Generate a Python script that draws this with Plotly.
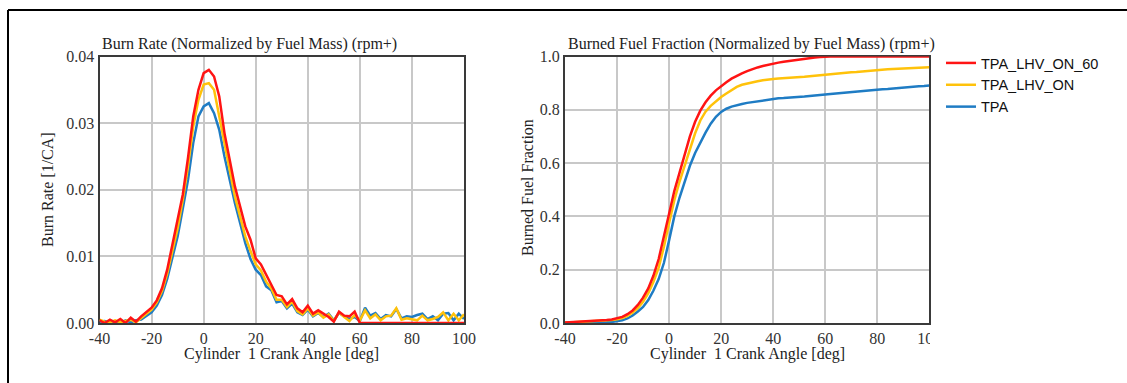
import plotly.graph_objects as go

W, H = 1127, 383

crank_angle = list(range(-40, 101, 2))

series_names = ["TPA_LHV_ON_60", "TPA_LHV_ON", "TPA"]
series_colors = ["#ff1414", "#ffc20a", "#1f7cc4"]

burn_rate_on60 = [
    0.0004, 0.0000, 0.0005, 0.0001, 0.0006, 0.0000, 0.0008, 0.0002, 0.0010, 0.0016,
    0.0023, 0.0034, 0.0052, 0.0080, 0.0118, 0.0152, 0.0193, 0.0248, 0.0310, 0.0350,
    0.0375, 0.0380, 0.0370, 0.0340, 0.0285, 0.0245, 0.0205, 0.0175, 0.0145, 0.0125,
    0.0097, 0.0088, 0.0072, 0.0058, 0.0042, 0.0040, 0.0028, 0.0036, 0.0022, 0.0016,
    0.0026, 0.0014, 0.0019, 0.0014, 0.0009, 0.0002, 0.0017, 0.0011, 0.0010, 0.0017,
    0.0, 0.0, 0.0, 0.0, 0.0, 0.0, 0.0, 0.0, 0.0, 0.0,
    0.0, 0.0, 0.0, 0.0, 0.0, 0.0, 0.0, 0.0, 0.0, 0.0,
    0.0,
]
burn_rate_on = [
    0.0005, 0.0002, 0.0001, 0.0004, 0.0001, 0.0003, 0.0005, 0.0001, 0.0008, 0.0014,
    0.0020, 0.0031, 0.0048, 0.0074, 0.0108, 0.0142, 0.0185, 0.0235, 0.0295, 0.0335,
    0.0358, 0.0360, 0.0350, 0.0310, 0.0270, 0.0230, 0.0190, 0.0160, 0.0130, 0.0108,
    0.0088, 0.0079, 0.0062, 0.0052, 0.0035, 0.0035, 0.0024, 0.0032, 0.0018, 0.0013,
    0.0022, 0.0011, 0.0016, 0.0008, 0.0013, 0.0003, 0.0016, 0.0009, 0.0003, 0.0012,
    0.0004, 0.0019, 0.0007, 0.0013, 0.0004, 0.0010, 0.0011, 0.0022, 0.0005, 0.0007,
    0.0006, 0.0004, 0.0011, 0.0004, 0.0006, 0.0009, 0.0016, 0.0004, 0.0014, 0.0004,
    0.0013,
]
burn_rate_tpa = [
    0.0002, 0.0003, 0.0000, 0.0003, 0.0000, 0.0004, 0.0001, 0.0004, 0.0005, 0.0011,
    0.0016, 0.0026, 0.0042, 0.0066, 0.0096, 0.0130, 0.0172, 0.0215, 0.0270, 0.0310,
    0.0325, 0.0330, 0.0315, 0.0290, 0.0250, 0.0213, 0.0180, 0.0150, 0.0120, 0.0096,
    0.0080, 0.0072, 0.0055, 0.0049, 0.0031, 0.0033, 0.0022, 0.0029, 0.0016, 0.0012,
    0.0020, 0.0010, 0.0015, 0.0009, 0.0014, 0.0004, 0.0015, 0.0010, 0.0006, 0.0009,
    0.0003, 0.0023, 0.0011, 0.0015, 0.0006, 0.0012, 0.0010, 0.0021, 0.0007, 0.0010,
    0.0009, 0.0012, 0.0014, 0.0006, 0.0010, 0.0004, 0.0014, 0.0015, 0.0004, 0.0014,
    0.0006,
]

bff_on60 = [
    0.002, 0.003, 0.003, 0.004, 0.005, 0.006, 0.007, 0.009, 0.011, 0.013,
    0.017, 0.023, 0.033, 0.047, 0.068, 0.095, 0.130, 0.178, 0.240, 0.320,
    0.410, 0.495, 0.565, 0.637, 0.700, 0.755, 0.797, 0.828, 0.853, 0.873,
    0.889, 0.903, 0.917, 0.928, 0.937, 0.945, 0.953, 0.959, 0.964, 0.969,
    0.973, 0.977, 0.980, 0.983, 0.986, 0.988, 0.991, 0.994, 0.996, 0.998,
    1.0, 1.0, 1.0, 1.0, 1.0, 1.0, 1.0, 1.0, 1.0, 1.0,
    1.0, 1.0, 1.0, 1.0, 1.0, 1.0, 1.0, 1.0, 1.0, 1.0,
    1.0,
]
bff_on = [
    0.001, 0.002, 0.002, 0.003, 0.004, 0.005, 0.006, 0.007, 0.009, 0.011,
    0.014, 0.019, 0.027, 0.039, 0.056, 0.080, 0.112, 0.155, 0.208, 0.285,
    0.375, 0.460, 0.530, 0.592, 0.655, 0.712, 0.760, 0.793, 0.815, 0.833,
    0.848, 0.861, 0.874, 0.886, 0.894, 0.899, 0.903, 0.907, 0.911, 0.914,
    0.916, 0.917, 0.918, 0.919, 0.920, 0.922, 0.924, 0.926, 0.928, 0.931,
    0.933, 0.934, 0.936, 0.937, 0.939, 0.941, 0.942, 0.944, 0.946, 0.948,
    0.950, 0.951, 0.952, 0.953, 0.954, 0.955, 0.956, 0.957, 0.958, 0.959,
    0.960,
]
bff_tpa = [
    0.001, 0.001, 0.001, 0.001, 0.001, 0.002, 0.002, 0.002, 0.003, 0.004,
    0.006, 0.010, 0.017, 0.028, 0.043, 0.060, 0.086, 0.122, 0.165, 0.225,
    0.310, 0.400, 0.470, 0.530, 0.590, 0.638, 0.678, 0.714, 0.748, 0.774,
    0.792, 0.804, 0.812, 0.818, 0.822, 0.826, 0.829, 0.832, 0.836, 0.839,
    0.842, 0.843, 0.844, 0.845, 0.846, 0.848, 0.850, 0.852, 0.853, 0.855,
    0.857, 0.859, 0.861, 0.862, 0.864, 0.866, 0.868, 0.870, 0.871, 0.873,
    0.875, 0.877, 0.878, 0.880, 0.881, 0.883, 0.884, 0.886, 0.888, 0.889,
    0.891,
]

x_tick_vals = [-40, -20, 0, 20, 40, 60, 80, 100]
x_tick_text = ["-40", "-20", "0", "20", "40", "60", "80", "100"]

burn_series = [burn_rate_on60, burn_rate_on, burn_rate_tpa]
bff_series = [bff_on60, bff_on, bff_tpa]

SERIF = "Liberation Serif, Times New Roman, serif"

fig = go.Figure()
# draw blue first so red is on top
for i in [2, 1, 0]:
    fig.add_trace(go.Scatter(
        x=crank_angle, y=burn_series[i], mode="lines", name=series_names[i],
        line=dict(color=series_colors[i], width=2.5), xaxis="x", yaxis="y",
        legendrank=i + 1, showlegend=True))
    fig.add_trace(go.Scatter(
        x=crank_angle, y=bff_series[i], mode="lines", name=series_names[i],
        line=dict(color=series_colors[i], width=2.5), xaxis="x2", yaxis="y2",
        showlegend=False))

def px_x(p):
    return p / W

def px_y(p):
    return 1 - p / H

ydom = [px_y(323), px_y(56.5)]
axis_common = dict(
    showgrid=True, gridcolor="#c8c8c8", gridwidth=1.5,
    showline=True, linecolor="#3a3a3a", linewidth=2, mirror=True,
    ticks="", zeroline=False, layer="below traces", automargin=False,
    tickfont=dict(family=SERIF, size=16, color="#333333"),
)

fig.update_layout(
    width=W, height=H, autosize=False,
    margin=dict(l=0, r=0, t=0, b=0, pad=0, autoexpand=False),
    paper_bgcolor="white", plot_bgcolor="white",
    xaxis=dict(domain=[px_x(99.5), px_x(464)], range=[-40, 100],
               tickvals=x_tick_vals, ticktext=x_tick_text, anchor="y", **axis_common),
    yaxis=dict(domain=ydom, range=[0, 0.04], dtick=0.01, tickformat=".2f",
               anchor="x", **axis_common),
    xaxis2=dict(domain=[px_x(565), px_x(929.3)], range=[-40, 100],
                tickvals=x_tick_vals, ticktext=x_tick_text, anchor="y2", **axis_common),
    yaxis2=dict(domain=ydom, range=[0, 1.0], dtick=0.2, tickformat=".1f",
                anchor="x2", **axis_common),
    showlegend=True,
    legend=dict(x=px_x(941), y=px_y(47), xanchor="left", yanchor="top",
                font=dict(family="Liberation Sans, Arial, sans-serif", size=14.5, color="#111111"),
                bgcolor="rgba(0,0,0,0)", tracegroupgap=0, itemwidth=30),
)

annots = [
    dict(text="Burn Rate (Normalized by Fuel Mass) (rpm+)", x=px_x(99.5), y=px_y(44),
         xanchor="left", yanchor="middle"),
    dict(text="Burned Fuel Fraction (Normalized by Fuel Mass) (rpm+)", x=px_x(566), y=px_y(44),
         xanchor="left", yanchor="middle"),
    dict(text="Cylinder\u00a0 1 Crank Angle [deg]", x=px_x(281.8), y=px_y(354),
         xanchor="center", yanchor="middle"),
    dict(text="Cylinder\u00a0 1 Crank Angle [deg]", x=px_x(747), y=px_y(354),
         xanchor="center", yanchor="middle"),
    dict(text="Burn Rate [1/CA]", x=px_x(47), y=px_y(190), textangle=-90,
         xanchor="center", yanchor="middle"),
    dict(text="Burned Fuel Fraction", x=px_x(527), y=px_y(188), textangle=-90,
         xanchor="center", yanchor="middle"),
]
for a in annots:
    fig.add_annotation(xref="paper", yref="paper", showarrow=False,
                       font=dict(family=SERIF, size=16, color="#222222"), **a)

# outer frame (left and top edges visible)
fig.add_shape(type="line", xref="paper", yref="paper",
              x0=px_x(8), x1=px_x(8), y0=-0.05, y1=px_y(10),
              line=dict(color="black", width=2))
fig.add_shape(type="line", xref="paper", yref="paper",
              x0=px_x(8), x1=1.05, y0=px_y(10), y1=px_y(10),
              line=dict(color="black", width=2))
# clipped last tick label on the right chart
fig.add_shape(type="rect", xref="paper", yref="paper", layer="above",
              x0=px_x(930), x1=px_x(947), y0=px_y(346), y1=px_y(325),
              line=dict(width=0), fillcolor="white")

fig.write_html("out.html")
